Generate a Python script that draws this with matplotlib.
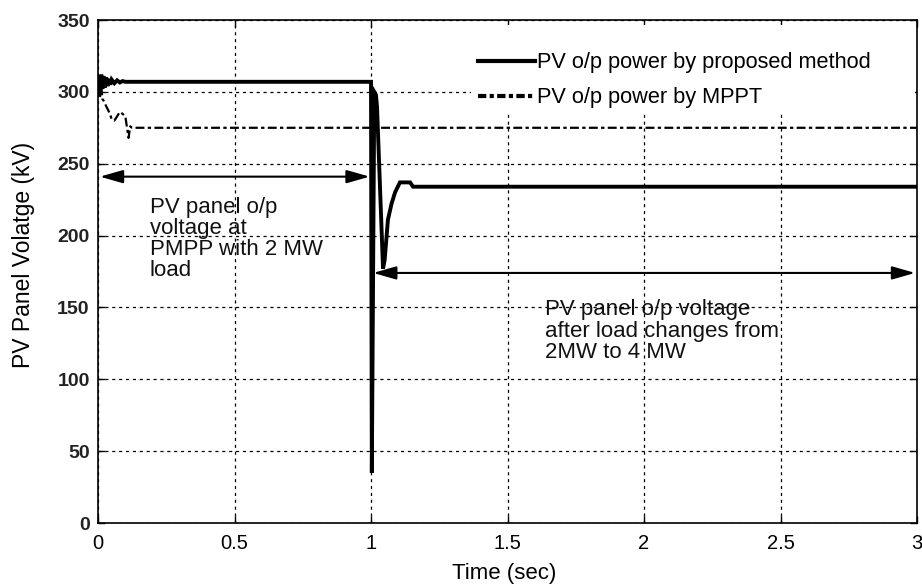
import matplotlib
matplotlib.use("Agg")
import matplotlib.pyplot as plt
import matplotlib.patches as mpatches

# time (sec) / voltage (kV)
t_prop = [0.0, 0.004, 0.008, 0.012, 0.016, 0.02, 0.025, 0.03, 0.035, 0.04, 0.045,
          0.05, 0.06, 0.07, 0.08, 0.09, 0.1, 0.15, 1.0, 1.003, 1.012, 1.018, 1.022,
          1.044, 1.05, 1.062, 1.075, 1.088, 1.106, 1.143, 1.154, 3.0]
v_prop = [300, 311, 301, 312, 302, 311, 303, 310, 304, 309, 305,
          308.5, 306, 308, 306.5, 307.5, 307, 307, 307, 35, 300, 298, 290,
          177, 183, 211, 222, 230, 237, 237, 234, 234]

t_mppt = [0.0, 0.004, 0.008, 0.012, 0.016, 0.02, 0.025, 0.03, 0.038, 0.045, 0.05,
          0.06, 0.07, 0.08, 0.088, 0.1, 0.112, 0.118, 0.125, 0.15, 1.0, 1.5, 2.0, 3.0]
v_mppt = [300, 308, 297, 304, 295, 294, 292, 290, 287, 284, 281,
          280, 283, 286, 285, 283, 268, 276, 275, 275, 275, 275, 275, 275]

x_ticks = [0, 0.5, 1, 1.5, 2, 2.5, 3]
x_tick_labels = ["0", "0.5", "1", "1.5", "2", "2.5", "3"]
y_ticks = [0, 50, 100, 150, 200, 250, 300, 350]

plt.rcParams["font.family"] = ["Liberation Sans", "DejaVu Sans"]

fig = plt.figure(figsize=(9.22, 5.87), dpi=100)
ax = fig.add_axes([98 / 922, 1 - 523 / 587, 819 / 922, 503 / 587])

ax.plot(t_prop, v_prop, color="black", lw=2.8, solid_joinstyle="miter",
        label="PV o/p power by proposed method", zorder=3)
ax.plot(t_mppt, v_mppt, color="black", lw=1.6, linestyle=(0, (4, 1.5, 1.5, 1.5)),
        label="PV o/p power by MPPT", zorder=3)

ax.set_xlim(0, 3)
ax.set_ylim(0, 350)
ax.set_xticks(x_ticks)
ax.set_xticklabels(x_tick_labels, fontsize=14.5)
ax.set_yticks(y_ticks)
ax.set_yticklabels([str(v) for v in y_ticks], fontsize=14, weight="bold",
                   color="#222222")
ax.tick_params(direction="in", top=True, right=True, length=5, width=1)
ax.tick_params(axis="x", pad=8)
ax.tick_params(axis="y", pad=6)
ax.set_axisbelow(True)
ax.grid(True, color="black", linestyle=(0, (2.5, 3)), linewidth=0.9)
for s in ax.spines.values():
    s.set_linewidth(1.2)

ax.set_xlabel("Time (sec)", fontsize=16)
ax.xaxis.set_label_coords(0.496, -0.08)
ax.set_ylabel("PV Panel Volatge (kV)", fontsize=16.5)
ax.yaxis.set_label_coords(-0.077, 0.533)

# white patch behind the legend (hides the grid there)
ax.add_patch(mpatches.Rectangle((0.455, 0.818), 0.542, 0.172, transform=ax.transAxes,
                                facecolor="white", edgecolor="none", zorder=1))
leg = ax.legend(loc="upper left", bbox_to_anchor=(0.464, 0.936), frameon=False,
                fontsize=15.7, handlelength=2.6, handletextpad=0.1,
                labelspacing=0.65, borderpad=0, borderaxespad=0)
for h in leg.get_lines():
    h.set_linewidth(3)
leg.get_lines()[1].set_linestyle((0, (2, 0.8, 1, 0.8)))

arrow = dict(arrowstyle="<|-|>,head_length=1.4,head_width=0.4", color="black",
             lw=1.5, shrinkA=0, shrinkB=0)
ax.annotate("", xy=(0.007, 241), xytext=(0.995, 241), arrowprops=arrow)
ax.annotate("", xy=(1.008, 174), xytext=(2.993, 174), arrowprops=arrow)

ax.text(0.19, 227, "PV panel o/p\nvoltage at\nPMPP with 2 MW\nload", fontsize=16,
        ha="left", va="top", linespacing=1.0, color="#111111")
ax.text(1.637, 156, "PV panel o/p voltage\nafter load changes from\n2MW to 4 MW",
        fontsize=16, ha="left", va="top", linespacing=1.05, color="#111111")

fig.savefig("out.png", dpi=100)
